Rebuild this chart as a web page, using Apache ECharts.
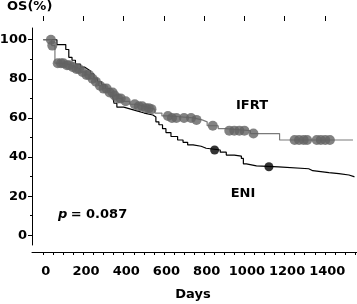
<!DOCTYPE html>
<html>
<head>
<meta charset="utf-8">
<script src="https://cdn.jsdelivr.net/npm/echarts@6/dist/echarts.min.js"></script>
<style>
html, body { margin: 0; padding: 0; background: #fff; }
#chart { width: 357px; height: 304px; }
</style>
</head>
<body>
<div id="chart"></div>
<script>
// Kaplan-Meier steps: [day, survival % after the event]
const ifrtSteps = [
  [0, 100], [42, 97], [58, 88], [110, 87], [135, 86], [160, 85], [185, 83.5],
  [210, 82], [235, 80], [258, 78.5], [275, 76.5], [295, 75], [320, 73],
  [345, 71.5], [370, 70], [395, 68.5], [430, 67], [465, 66], [500, 65],
  [525, 64.5], [555, 62.5], [590, 61], [630, 60], [745, 59], [790, 58],
  [815, 56], [870, 54.5], [905, 53.5], [1030, 52], [1175, 48.7], [1540, 48.7]
]
// censored patients (grey dots)
const ifrtCensored = [
  [38, 100], [45, 97], [72, 88], [88, 88], [100, 88], [118, 87], [130, 87],
  [148, 86], [165, 85], [178, 85], [195, 83.5], [215, 82], [228, 82],
  [245, 80], [262, 78.5], [282, 76.5], [300, 75], [315, 75], [330, 73],
  [345, 73], [355, 71.5], [372, 70], [385, 70], [410, 68.5], [455, 67],
  [475, 66], [492, 66], [510, 65], [525, 65], [538, 64.5], [620, 61],
  [640, 60], [662, 60], [700, 60], [735, 60], [762, 59], [843, 56],
  [925, 53.5], [950, 53.5], [975, 53.5], [1000, 53.5], [1045, 52],
  [1250, 48.7], [1272, 48.7], [1295, 48.7], [1312, 48.7], [1360, 48.7],
  [1380, 48.7], [1402, 48.7], [1425, 48.7]
]
const eniSteps = [
  [0, 100], [68, 97.5], [112, 95], [127, 91], [143, 89.5], [160, 87.5],
  [185, 86], [205, 85], [220, 84], [235, 82.5], [252, 80], [270, 78.5],
  [290, 77], [310, 75], [330, 73], [345, 71], [352, 67.5], [366, 65.5],
  [400, 64.5], [435, 63.5], [470, 62.5], [502, 61.5], [545, 60.5], [560, 58],
  [575, 56.5], [593, 54.5], [610, 52.5], [635, 50.5], [668, 48.7], [695, 47.5],
  [718, 46.2], [745, 45.5], [785, 44.5], [810, 43.6], [880, 42.5], [910, 41],
  [950, 40.5], [985, 39.3], [995, 36.5], [1010, 35.5], [1060, 35], [1170, 34],
  [1320, 33], [1340, 32], [1420, 31.5], [1470, 30.8], [1520, 30], [1545, 29.6]
]
const eniCensored = [[852, 43.6], [1122, 35]]

const xMinorTicks = []
for (let d = 0; d <= 1550; d += 50) xMinorTicks.push(d)
const xMajorTicks = [0, 200, 400, 600, 800, 1000, 1200, 1400]
const yMinorTicks = [0, 10, 20, 30, 40, 50, 60, 70, 80, 90, 100]
const yMajorTicks = [0, 20, 40, 60, 80, 100]

const font = 'DejaVu Sans'
const chart = echarts.init(document.getElementById('chart'))

const xBase = {
  type: 'value',
  min: -56,
  max: 1560,
  offset: 7,
  splitLine: { show: false },
}
const yBase = {
  type: 'value',
  min: -5,
  max: 106,
  splitLine: { show: false },
}

chart.setOption({
  animation: false,
  grid: { left: 32, right: 0, top: 28, bottom: 59, outerBoundsMode: 'none' },
  xAxis: [
    Object.assign({}, xBase, {
      axisLine: { onZero: false, lineStyle: { color: '#000', width: 1 } },
      axisTick: { customValues: xMinorTicks, length: 3, lineStyle: { color: '#000' } },
      axisLabel: {
        customValues: xMajorTicks,
        formatter: (v) => String(v),
        hideOverlap: false,
        margin: 13,
        padding: [0, 0, 0, 5],
        color: '#000',
        fontFamily: font,
        fontWeight: 'bold',
        fontSize: 13,
      },
    }),
    Object.assign({}, xBase, {
      axisLine: { show: false, onZero: false },
      axisTick: { customValues: xMajorTicks, length: 5, lineStyle: { color: '#000' } },
      axisLabel: { show: false },
    }),
  ],
  yAxis: [
    Object.assign({}, yBase, {
      axisLine: { show: true, onZero: false, lineStyle: { color: '#000', width: 1 } },
      axisTick: { show: true, customValues: yMinorTicks, length: 2, lineStyle: { color: '#000' } },
      axisLabel: {
        customValues: yMajorTicks,
        formatter: (v) => String(v),
        margin: 5,
        padding: [6, 0, 0, 0],
        color: '#000',
        fontFamily: font,
        fontWeight: 'bold',
        fontSize: 13,
      },
    }),
    Object.assign({}, yBase, {
      position: 'left',
      axisLine: { show: false, onZero: false },
      axisTick: { show: true, customValues: yMajorTicks, length: 4, lineStyle: { color: '#000' } },
      axisLabel: { show: false },
    }),
  ],
  series: [
    {
      name: 'ENI',
      type: 'line',
      step: 'end',
      data: eniSteps,
      showSymbol: false,
      lineStyle: { color: '#000', width: 1.2 },
      z: 2,
    },
    {
      name: 'IFRT',
      type: 'line',
      step: 'end',
      data: ifrtSteps,
      showSymbol: false,
      lineStyle: { color: '#7a7a7a', width: 1.2 },
      z: 3,
    },
    {
      name: 'IFRT censored',
      type: 'scatter',
      data: ifrtCensored,
      symbolSize: 10,
      itemStyle: { color: '#636363' },
      z: 4,
    },
    {
      name: 'ENI censored',
      type: 'scatter',
      data: eniCensored,
      symbolSize: 9,
      itemStyle: { color: '#000' },
      z: 4,
    },
  ],
  graphic: [
    {
      type: 'text', left: 7, top: 0,
      style: { text: 'OS(%)', font: 'bold 13px "DejaVu Sans"', fill: '#000' },
    },
    {
      type: 'text', x: 193, y: 295,
      style: { text: 'Days', font: 'bold 13px "DejaVu Sans"', fill: '#000', align: 'center', verticalAlign: 'middle' },
    },
    {
      type: 'text', x: 252, y: 106,
      style: { text: 'IFRT', font: 'bold 13px "DejaVu Sans"', fill: '#000', align: 'center', verticalAlign: 'middle' },
    },
    {
      type: 'text', x: 243, y: 194,
      style: { text: 'ENI', font: 'bold 13px "DejaVu Sans"', fill: '#000', align: 'center', verticalAlign: 'middle' },
    },
    {
      type: 'text', x: 58, y: 215,
      style: {
        text: '{p|p} {t|= 0.087}',
        verticalAlign: 'middle',
        rich: {
          p: { font: 'italic bold 13px "DejaVu Sans"', fill: '#000' },
          t: { font: 'bold 13px "DejaVu Sans"', fill: '#000' },
        },
      },
    },
  ],
})
</script>
</body>
</html>
